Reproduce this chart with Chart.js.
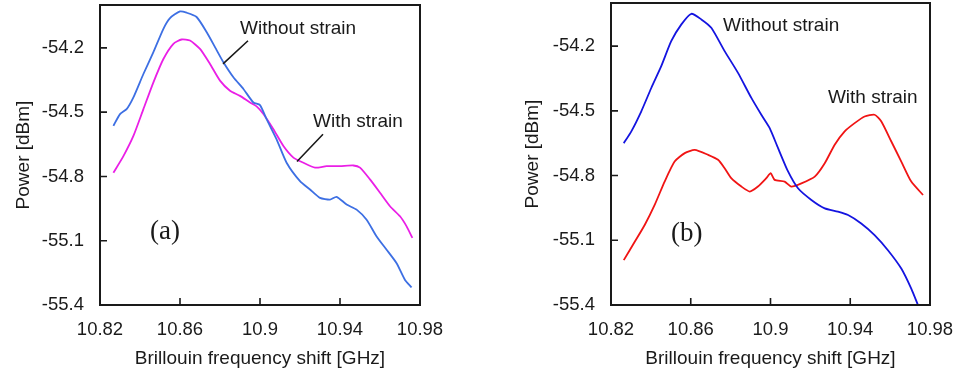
<!DOCTYPE html>
<html>
<head>
<meta charset="utf-8">
<script src="https://cdn.jsdelivr.net/npm/chart.js@4.4.1/dist/chart.umd.min.js"></script>
<style>
  html, body { margin: 0; padding: 0; background: #fff; }
  .panel { position: absolute; top: 0; width: 478px; height: 370px; }
</style>
</head>
<body>
<div class="panel" style="left:0"><canvas id="chartA" width="478" height="370"></canvas></div>
<div class="panel" style="left:478px"><canvas id="chartB" width="478" height="370"></canvas></div>
<script>
// axis ticks (shared by both panels)
const xTicks = [10.82, 10.86, 10.9, 10.94, 10.98];
const yTicks = [-55.4, -55.1, -54.8, -54.5, -54.2];

// panel (a) - without strain
const freqA_wo = [10.8267, 10.830, 10.8333, 10.8367, 10.8417, 10.8467, 10.8517, 10.855, 10.86, 10.8633,
  10.8683, 10.8733, 10.878, 10.8817, 10.8867, 10.8917, 10.8967, 10.900, 10.9033, 10.9083,
  10.9133, 10.920, 10.925, 10.930, 10.935, 10.9383, 10.9433, 10.9483, 10.9533, 10.9583,
  10.9633, 10.9683, 10.9725, 10.9758];
const powA_wo = [-54.564, -54.509, -54.486, -54.431, -54.322, -54.22, -54.111, -54.061, -54.03, -54.036,
  -54.056, -54.126, -54.205, -54.267, -54.337, -54.392, -54.455, -54.467, -54.533, -54.627,
  -54.736, -54.822, -54.861, -54.900, -54.908, -54.895, -54.931, -54.955, -55.002, -55.08,
  -55.142, -55.205, -55.283, -55.318];

// panel (a) - with strain
const freqA_w = [10.8267, 10.8317, 10.8367, 10.8417, 10.8467, 10.8517, 10.8567, 10.8608, 10.865, 10.870,
  10.875, 10.880, 10.885, 10.890, 10.895, 10.8983, 10.9017, 10.9067, 10.9117, 10.9167,
  10.9217, 10.9275, 10.9333, 10.940, 10.9467, 10.950, 10.955, 10.960, 10.965, 10.970,
  10.9733, 10.9762];
const powA_w = [-54.783, -54.705, -54.611, -54.486, -54.361, -54.252, -54.181, -54.161, -54.166, -54.205,
  -54.275, -54.353, -54.400, -54.424, -54.455, -54.473, -54.509, -54.58, -54.658, -54.712,
  -54.736, -54.759, -54.752, -54.752, -54.749, -54.759, -54.814, -54.876, -54.939, -54.986,
  -55.033, -55.087];

// panel (b) - without strain
const freqB_wo = [10.8264, 10.8302, 10.8352, 10.8402, 10.8452, 10.8502, 10.8553, 10.8603, 10.8653, 10.8703,
  10.877, 10.8837, 10.8904, 10.8954, 10.8996, 10.9038, 10.9088, 10.9138, 10.9205, 10.9272,
  10.9338, 10.9389, 10.9455, 10.9522, 10.9589, 10.9656, 10.9706, 10.974];
const powB_wo = [-54.65, -54.595, -54.502, -54.394, -54.293, -54.177, -54.099, -54.05, -54.076, -54.115,
  -54.223, -54.324, -54.44, -54.518, -54.58, -54.673, -54.781, -54.859, -54.913, -54.952,
  -54.967, -54.983, -55.022, -55.076, -55.146, -55.231, -55.324, -55.401];

// panel (b) - with strain
const freqB_w = [10.8264, 10.8319, 10.8369, 10.8419, 10.8469, 10.8519, 10.857, 10.862, 10.8687, 10.8737,
  10.877, 10.8803, 10.8854, 10.8896, 10.8937, 10.8979, 10.9001, 10.9021, 10.9071, 10.9104,
  10.9155, 10.9222, 10.9272, 10.9322, 10.9372, 10.9422, 10.9472, 10.9522, 10.9556, 10.9606,
  10.9656, 10.9706, 10.9765];
const powB_w = [-55.192, -55.107, -55.029, -54.936, -54.828, -54.735, -54.696, -54.681, -54.704, -54.727,
  -54.766, -54.812, -54.851, -54.874, -54.851, -54.812, -54.789, -54.82, -54.828, -54.851,
  -54.836, -54.805, -54.743, -54.657, -54.595, -54.557, -54.526, -54.518, -54.549, -54.642,
  -54.735, -54.828, -54.89];

// annotations: [text, x, y] in data units, leader lines [x1, y1, x2, y2]
const labelsA = [['Without strain', 10.890, -54.111], ['With strain', 10.9265, -54.547]];
const leadersA = [[10.894, -54.167, 10.8815, -54.275], [10.9315, -54.603, 10.9185, -54.73]];
const labelsB = [['Without strain', 10.8762, -54.107], ['With strain', 10.9288, -54.437]];
const leadersB = [];

const FONT = '"Liberation Sans", Arial, sans-serif';
const INK = '#1a1a1a';

function toPoints(xs, ys) {
  return xs.map((x, i) => ({ x: x, y: ys[i] }));
}

// frame, inward tick marks and annotation text
function overlayPlugin(labels, leaders, tag) {
  return {
    id: 'overlay',
    afterDraw(chart) {
      const { ctx, chartArea: a, scales } = chart;
      const px = v => scales.x.getPixelForValue(v);
      const py = v => scales.y.getPixelForValue(v);
      ctx.save();
      ctx.strokeStyle = INK;
      ctx.lineWidth = 2;
      ctx.strokeRect(a.left, a.top, a.right - a.left, a.bottom - a.top);

      ctx.lineWidth = 1.6;
      ctx.beginPath();
      xTicks.slice(1, -1).forEach(v => {
        ctx.moveTo(px(v), a.bottom);
        ctx.lineTo(px(v), a.bottom - 7);
      });
      yTicks.slice(1).forEach(v => {
        ctx.moveTo(a.left, py(v));
        ctx.lineTo(a.left + 7, py(v));
      });
      leaders.forEach(l => {
        ctx.moveTo(px(l[0]), py(l[1]));
        ctx.lineTo(px(l[2]), py(l[3]));
      });
      ctx.stroke();

      ctx.fillStyle = INK;
      ctx.textBaseline = 'middle';
      ctx.textAlign = 'left';
      ctx.font = '19px ' + FONT;
      labels.forEach(t => ctx.fillText(t[0], px(t[1]), py(t[2])));

      ctx.font = '27px "Liberation Serif", "Times New Roman", serif';
      ctx.fillText(tag[0], px(tag[1]), py(tag[2]));
      ctx.restore();
    }
  };
}

function noPad(s) {
  s.paddingTop = 0;
  s.paddingBottom = 0;
  s.paddingLeft = 0;
  s.paddingRight = 0;
}

function makeChart(id, series, opts) {
  return new Chart(document.getElementById(id), {
    type: 'line',
    data: {
      datasets: series.map(s => ({
        data: s.data,
        borderColor: s.color,
        borderWidth: 1.8,
        pointRadius: 0,
        tension: 0.2,
        fill: false
      }))
    },
    options: {
      responsive: false,
      animation: false,
      layout: { padding: { left: 0, top: opts.top, right: opts.right, bottom: 0 } },
      plugins: { legend: { display: false }, tooltip: { enabled: false } },
      scales: {
        x: {
          type: 'linear',
          min: 10.82,
          max: 10.98,
          afterBuildTicks: s => { s.ticks = xTicks.map(v => ({ value: v })); },
          afterFit: s => { s.height = 65; noPad(s); },
          border: { display: false },
          grid: { display: false, drawTicks: false },
          ticks: {
            padding: 14,
            maxRotation: 0,
            color: INK,
            font: { family: FONT, size: 18.5 },
            callback: v => String(+v.toFixed(2))
          },
          title: {
            display: true,
            text: 'Brillouin frequency shift [GHz]',
            color: INK,
            font: { family: FONT, size: 19 },
            padding: { top: 0, bottom: 0 }
          }
        },
        y: {
          min: -55.4,
          max: -54.0,
          afterBuildTicks: s => { s.ticks = yTicks.map(v => ({ value: v })); },
          afterFit: s => { s.width = opts.left; noPad(s); },
          border: { display: false },
          grid: { display: false, drawTicks: false },
          ticks: {
            padding: 16,
            color: INK,
            font: { family: FONT, size: 18.5 },
            callback: v => String(+v.toFixed(1))
          },
          title: {
            display: true,
            text: 'Power [dBm]',
            color: INK,
            font: { family: FONT, size: 19 },
            padding: { top: opts.titlePad, bottom: 0 }
          }
        }
      }
    },
    plugins: [overlayPlugin(opts.labels, opts.leaders, opts.tag)]
  });
}

makeChart('chartA', [
  { data: toPoints(freqA_wo, powA_wo), color: '#3d6fe3' },
  { data: toPoints(freqA_w, powA_w), color: '#ea1fe6' }
], { left: 100, right: 58, top: 5, titlePad: 12, labels: labelsA, leaders: leadersA, tag: ['(a)', 10.845, -55.058] });

makeChart('chartB', [
  { data: toPoints(freqB_wo, powB_wo), color: '#1414e0' },
  { data: toPoints(freqB_w, powB_w), color: '#f01414' }
], { left: 133, right: 26, top: 3, titlePad: 43, labels: labelsB, leaders: leadersB, tag: ['(b)', 10.8501, -55.07] });
</script>
</body>
</html>
